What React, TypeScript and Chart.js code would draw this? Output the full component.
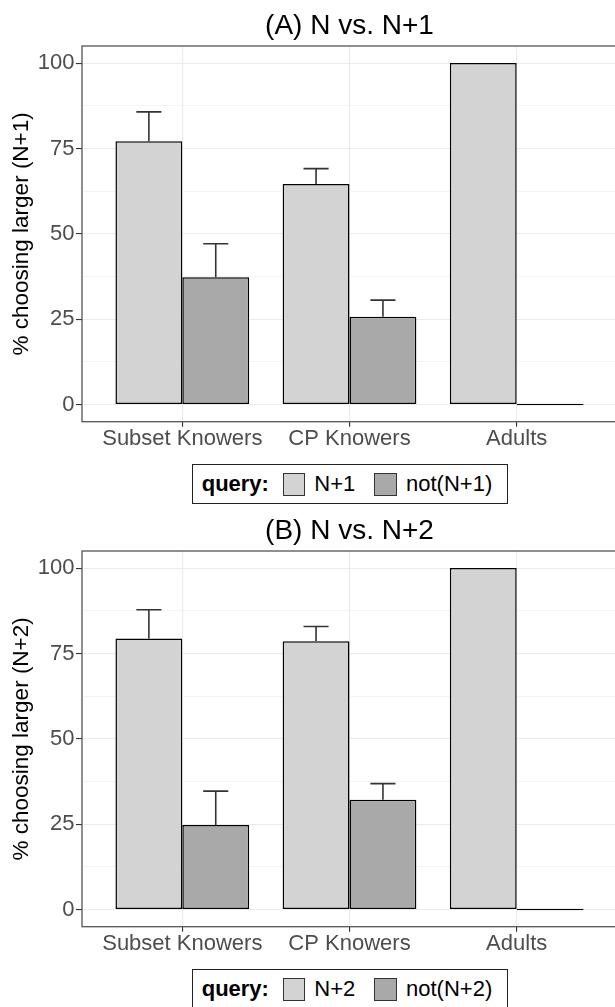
import React, { useEffect, useRef } from "react";
import { Chart, registerables } from "chart.js";

Chart.register(...registerables);

// ---------------- data ----------------
const categories = ["Subset Knowers", "CP Knowers", "Adults"];
const categoryPositions = [0, 1, 2];
const yMajorTicks = [0, 25, 50, 75, 100];
const yMinorTicks = [12.5, 37.5, 62.5, 87.5];

const legendTitle = "query:";

const titleA = "(A) N vs. N+1";
const yLabelA = "% choosing larger (N+1)";
const seriesA = ["N+1", "not(N+1)"];
const meanA_n1 = [77.1, 64.6, 100];
const upperA_n1 = [85.7, 69.1, null];
const meanA_not = [37.3, 25.7, 0];
const upperA_not = [47.1, 30.6, null];

const titleB = "(B) N vs. N+2";
const yLabelB = "% choosing larger (N+2)";
const seriesB = ["N+2", "not(N+2)"];
const meanB_n2 = [79.4, 78.6, 100];
const upperB_n2 = [87.8, 82.9, null];
const meanB_not = [24.8, 32.2, 0];
const upperB_not = [34.7, 36.9, null];

const seriesColors = ["#D3D3D3", "#A9A9A9"];

// ---------------- style ----------------
const FONT = '"Liberation Sans", Arial, Helvetica, sans-serif';
const PANEL_W = 620;
const PANEL_H = 505;
const CAP_WIDTH = 0.15; // in category units

function makeErrorBarPlugin(uppers: (number | null)[][]) {
  return {
    id: "errorBars",
    afterDatasetsDraw(chart: any) {
      const ctx = chart.ctx;
      const xs = chart.scales.x;
      const ys = chart.scales.y;
      const half = xs.getPixelForValue(CAP_WIDTH / 2) - xs.getPixelForValue(0);
      chart.data.datasets.forEach((ds: any, di: number) => {
        const meta = chart.getDatasetMeta(di);
        meta.data.forEach((bar: any, j: number) => {
          const u = uppers[di][j];
          if (u === null || u === undefined) return;
          const yTop = ys.getPixelForValue(u);
          const yBase = ys.getPixelForValue(ds.data[j].y);
          ctx.save();
          ctx.strokeStyle = "#333333";
          ctx.lineWidth = 1.6;
          ctx.beginPath();
          ctx.moveTo(bar.x, yBase);
          ctx.lineTo(bar.x, yTop);
          ctx.moveTo(bar.x - half, yTop);
          ctx.lineTo(bar.x + half, yTop);
          ctx.stroke();
          ctx.restore();
        });
      });
    },
  };
}

const framePlugin = {
  id: "panelFrame",
  afterDraw(chart: any) {
    const { left, top, right, bottom } = chart.chartArea;
    const ctx = chart.ctx;
    ctx.save();
    ctx.strokeStyle = "#555555";
    ctx.lineWidth = 1.3;
    ctx.strokeRect(left, top, right - left, bottom - top);
    ctx.restore();
  },
};

type PanelProps = {
  top: number;
  title: string;
  yLabel: string;
  series: string[];
  means: number[][];
  uppers: (number | null)[][];
};

const isMajor = (v: number) => yMajorTicks.includes(v);

function Panel({ top, title, yLabel, series, means, uppers }: PanelProps) {
  const ref = useRef<HTMLCanvasElement>(null);

  useEffect(() => {
    const canvas = ref.current;
    if (!canvas) return;
    const chart = new Chart(canvas, {
      type: "bar",
      data: {
        datasets: series.map((name, si) => ({
          label: name,
          data: categoryPositions.map((x, i) => ({ x, y: means[si][i] })),
          backgroundColor: seriesColors[si],
          borderColor: "#000000",
          borderWidth: 1.5,
          borderSkipped: false,
          minBarLength: 1.5,
          categoryPercentage: 0.8,
          barPercentage: 1,
        })),
      } as any,
      options: {
        responsive: false,
        animation: false,
        devicePixelRatio: 1,
        layout: { padding: { left: 0, right: 3, top: 0, bottom: 53.3 } },
        plugins: {
          legend: { display: false },
          tooltip: { enabled: false },
          title: {
            display: true,
            text: title,
            color: "#000000",
            font: { family: FONT, size: 28, weight: "normal" },
            padding: { top: 9, bottom: 3.4 },
            fullSize: false,
          },
        },
        scales: {
          x: {
            type: "linear",
            min: -0.6,
            max: 2.6,
            offset: false,
            afterBuildTicks: (s: any) => {
              s.ticks = categoryPositions.map((v) => ({ value: v }));
            },
            afterFit: (s: any) => {
              s.height = 30;
            },
            ticks: {
              autoSkip: false,
              maxRotation: 0,
              padding: -1,
              color: "#4D4D4D",
              font: { family: FONT, size: 22 },
              callback: (v: any) => {
                const idx = categoryPositions.indexOf(Number(v));
                return idx >= 0 ? categories[idx] : "";
              },
            },
            grid: {
              offset: false,
              color: "#EBEBEB",
              lineWidth: 1.1,
              tickColor: "#333333",
              tickLength: 5,
              tickWidth: 1.1,
            },
            border: { display: false },
          },
          y: {
            type: "linear",
            min: -5,
            max: 105,
            afterBuildTicks: (s: any) => {
              s.ticks = [...yMajorTicks, ...yMinorTicks]
                .sort((a, b) => a - b)
                .map((v) => ({ value: v }));
            },
            afterFit: (s: any) => {
              s.width = 82;
            },
            ticks: {
              autoSkip: false,
              padding: 1.5,
              color: "#4D4D4D",
              font: { family: FONT, size: 22 },
              callback: (v: any) => (isMajor(Number(v)) ? String(v) : ""),
            },
            grid: {
              color: "#EBEBEB",
              lineWidth: (c: any) => (c.tick && isMajor(c.tick.value) ? 1.1 : 0.55),
              tickColor: (c: any) =>
                c.tick && isMajor(c.tick.value) ? "#333333" : "rgba(0,0,0,0)",
              tickLength: 6,
              tickWidth: 1.1,
            },
            border: { display: false },
            title: {
              display: true,
              text: yLabel,
              color: "#000000",
              font: { family: FONT, size: 22.5 },
              padding: { top: 8, bottom: 0 },
            },
          },
        },
      } as any,
      plugins: [makeErrorBarPlugin(uppers), framePlugin],
    });
    return () => chart.destroy();
  }, []);

  // legend (ggplot style box) — positions in panel coordinates
  const textStyle: React.CSSProperties = {
    position: "absolute",
    fontFamily: FONT,
    fontSize: 22,
    lineHeight: "22px",
    color: "#000",
    whiteSpace: "nowrap",
  };
  const baseline = 491.7;
  const textTop = baseline - 18.6;
  const swatchLefts = [282.7, 374.3];
  const labelLefts = [314.3, 406];

  return (
    <div style={{ position: "absolute", left: 0, top, width: PANEL_W, height: PANEL_H }}>
      <canvas ref={ref} width={PANEL_W} height={PANEL_H} style={{ display: "block" }} />
      <div
        style={{
          position: "absolute",
          left: 192.3,
          top: 464.3,
          width: 316,
          height: 40,
          border: "1.2px solid #222",
          boxSizing: "border-box",
          background: "#fff",
        }}
      />
      <div style={{ ...textStyle, left: 201.7, top: textTop, fontWeight: "bold" }}>{legendTitle}</div>
      {series.map((name, si) => (
        <React.Fragment key={name}>
          <div
            style={{
              position: "absolute",
              left: swatchLefts[si],
              top: 473.3,
              width: 22.3,
              height: 22.3,
              boxSizing: "border-box",
              border: "1.3px solid #333",
              background: seriesColors[si],
            }}
          />
          <div style={{ ...textStyle, left: labelLefts[si], top: textTop }}>{name}</div>
        </React.Fragment>
      ))}
    </div>
  );
}

export default function App() {
  return (
    <div
      style={{
        position: "fixed",
        left: 0,
        top: 0,
        width: 615,
        height: 1007,
        overflow: "hidden",
        background: "#fff",
      }}
    >
      <Panel
        top={0}
        title={titleA}
        yLabel={yLabelA}
        series={seriesA}
        means={[meanA_n1, meanA_not]}
        uppers={[upperA_n1, upperA_not]}
      />
      <Panel
        top={505}
        title={titleB}
        yLabel={yLabelB}
        series={seriesB}
        means={[meanB_n2, meanB_not]}
        uppers={[upperB_n2, upperB_not]}
      />
    </div>
  );
}
